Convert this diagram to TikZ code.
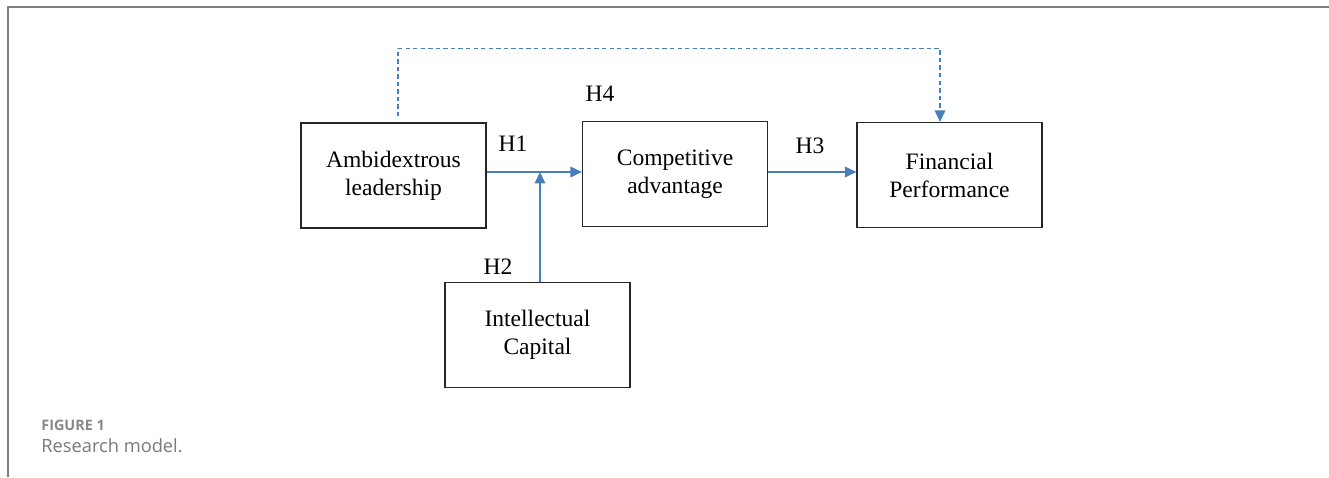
\documentclass[tikz,border=0pt]{standalone}
\usepackage{fontspec}
\setmainfont{Liberation Serif}
\newfontfamily\capfont{Open Sans}
\usetikzlibrary{arrows.meta,positioning,calc}
\definecolor{arrowblue}{HTML}{4A7EBB}
\definecolor{framegray}{HTML}{7F7F7F}
\definecolor{capgray}{HTML}{7A7A7A}
\tikzset{
  varbox/.style={draw=black!85,line width=0.7pt,minimum width=3.7cm,minimum height=2.1cm,
    align=center,font=\fontsize{13.4}{16}\selectfont},
  hlabel/.style={font=\fontsize{13.4}{16}\selectfont},
  hpath/.style={draw=arrowblue,line width=0.85pt,-{Triangle[length=6.5pt,width=6pt]}}
}

\begin{document}
\begin{tikzpicture}[x=0.02cm,y=-0.02cm]
  \useasboundingbox (0,0) rectangle (1329,477); % 画像全体の範囲
  \draw[framegray,line width=1.1pt] (8,477) -- (8,7) -- (1329,7); % 左と上の枠線
  \node[varbox] (amb) at (393.5,175.5) {Ambidextrous\\leadership}; % 独立変数
  \node[varbox] (comp) at (675,174) {Competitive\\advantage}; % 媒介変数
  \node[varbox] (fin) at (949.5,175) {Financial\\Performance}; % 従属変数
  \node[varbox] (ic) at (537.5,335) {Intellectual\\Capital}; % 調整変数
  \coordinate (jct) at (540,172); % 調整効果の合流点
  \draw[hpath] (amb.east |- jct) -- (comp.west |- jct); % H1の矢印
  \draw[hpath] (ic.north -| jct) -- (jct); % H2の矢印
  \draw[hpath] (comp.east |- jct) -- (fin.west |- jct); % H3の矢印
  \draw[hpath,dash pattern=on 2.5pt off 1.8pt] ([xshift=0.09cm,yshift=0.12cm]amb.north)
    -- ++(0,-68) -| ([xshift=-0.19cm]fin.north); % H4の点線矢印
  \node[hlabel] (h4) at (600,94) {H4}; % H4のラベル
  \node[hlabel] (h1) at (513,144) {H1}; % H1のラベル
  \node[hlabel] (h3) at (810,146) {H3}; % H3のラベル
  \node[hlabel] (h2) at (498,267) {H2}; % H2のラベル
  \node[anchor=base west,inner sep=0pt,text=capgray!90,font=\capfont\fontsize{8.2}{10}\selectfont\bfseries]
    (fig) at (41,430) {FIGURE 1}; % 図番号
  \node[anchor=base west,inner sep=0pt,text=capgray,font=\capfont\fontsize{10.4}{12}\selectfont]
    (cap) at (41,452) {Research model.}; % 図のタイトル
\end{tikzpicture}
\end{document}
